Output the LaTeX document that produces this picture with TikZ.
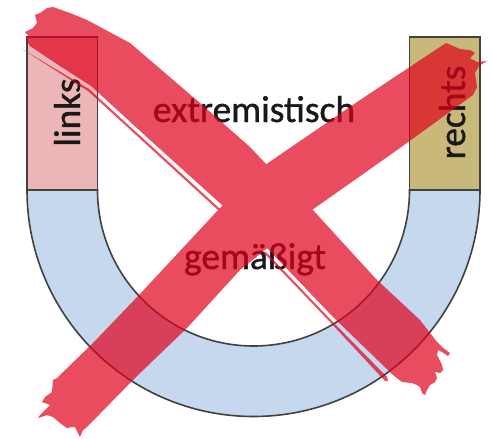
\documentclass[tikz,border=0pt]{standalone}
\usepackage{fontspec}
\setmainfont{Carlito}
\newfontfamily\beschriftung{Carlito}[FakeBold=1]
\definecolor{linksrosa}{RGB}{236,182,185}
\definecolor{rechtsocker}{RGB}{200,185,122}
\definecolor{mitteblau}{RGB}{197,216,237}
\definecolor{kreuzrot}{RGB}{224,0,26}
\definecolor{randgrau}{RGB}{65,65,65}

\begin{document}
\begin{tikzpicture}[x=1pt, y=-1pt,
    every node/.style={font=\beschriftung\fontsize{37.5}{40}\selectfont, text=black!90, inner sep=0pt},
    rand/.style={draw=randgrau, line width=1.6pt},
    kreuz/.style={fill=kreuzrot, fill opacity=0.7}]
    \useasboundingbox (0,0) rectangle (493,439);
    \draw[rand, fill=mitteblau] (27,190) arc[start angle=180, end angle=0, radius=226.5]
        -- (409.5,190) arc[start angle=0, end angle=180, radius=156] -- cycle;
    \draw[rand, fill=linksrosa] (27,37) rectangle (97.5,190);
    \draw[rand, fill=rechtsocker] (409.5,37) rectangle (480,190);
    \node[rotate=90, anchor=base] (links) at (80,112.5) {links};
    \node[rotate=90, anchor=base] (rechts) at (465,112.5) {rechts};
    \node[anchor=base] (extrem) at (254,122) {extremistisch};
    \node[anchor=base] (gemaessigt) at (255,269) {gemäßigt};
    % das Kreuz: ein Pfad, damit die Deckkraft nur einmal wirkt
    \fill[kreuz]
        (47,8) -- (53,7) -- (70,13) -- (87,20) -- (130,43) -- (200,103) -- (250,147)
        -- (267,165) -- (312,209) -- (376,279) -- (420,320) -- (437,342) -- (442,347)
        -- (450,353) -- (448,356) -- (442,352) -- (438,350) -- (437,355) -- (442,365)
        -- (443,370) -- (440,373) -- (435,372) -- (437,378) -- (435,382) -- (430,385)
        -- (427,390) -- (425,395) -- (422,393) -- (420,387) -- (417,385) -- (412,383)
        -- (402,382) -- (393,375) -- (333,317) -- (267,248) -- (222,205) -- (150,140)
        -- (91,86) -- (60,66) -- (30,46) -- (26,40) -- (28,35) -- (25,32) -- (33,28)
        -- (37,23) -- (35,15) -- (40,13) -- cycle
        (57,378) -- (93,343) -- (140,294) -- (220,208) -- (268,163) -- (360,100)
        -- (446,43) -- (460,49) -- (470,50) -- (475,53) -- (470,58) -- (477,62)
        -- (487,61) -- (479,66) -- (475,73) -- (477,87) -- (473,95) -- (400,148)
        -- (312,210) -- (265,250) -- (240,270) -- (187,328) -- (135,378) -- (87,427)
        -- (83,430) -- (80,437) -- (78,433) -- (75,427) -- (72,427) -- (67,428)
        -- (60,423) -- (53,417) -- (47,415) -- (38,418) -- (40,415) -- (47,408)
        -- (50,405) -- (45,403) -- (42,402) -- (45,397) -- (52,392) -- (53,380) -- cycle
        (22,49) -- (89,89) -- (219,208) -- (226,214) -- (225,216) -- (218,210) -- (88,91) -- cycle
        (265,251) -- (331,320) -- (387,377) -- (388,381) -- (385,381) -- (330,322) -- (264,253) -- cycle;
\end{tikzpicture}
\end{document}
